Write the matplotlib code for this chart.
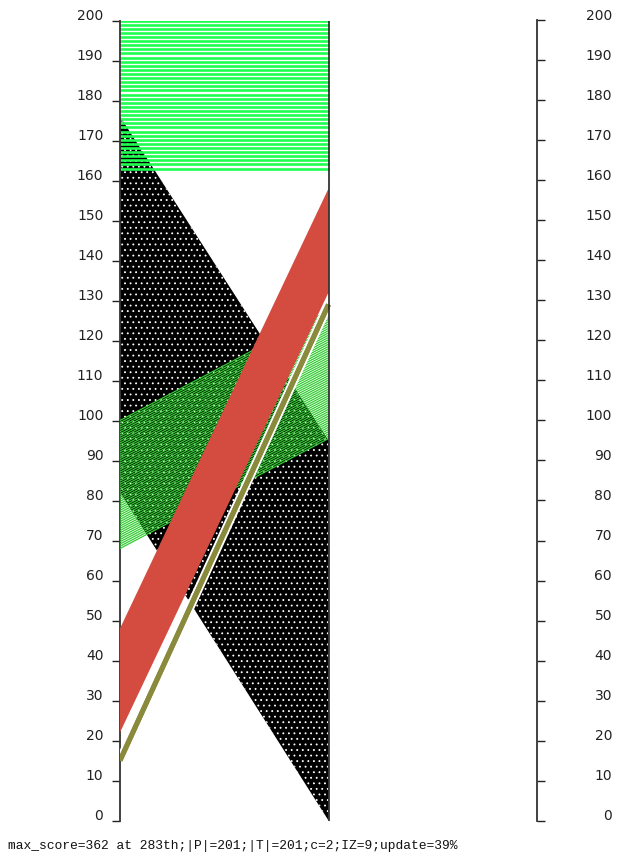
import matplotlib.pyplot as plt
import matplotlib.patheffects as pe
from matplotlib.collections import LineCollection
import numpy as np

plt.rcParams['font.family'] = 'DejaVu Sans'
plt.rcParams['hatch.linewidth'] = 0.6

# band ranges on the first axis (left) and second axis (middle)
band_names = ['dots', 'top', 'diag', 'red']
left_lo = [82, 163, 68, 22]
left_hi = [176, 200, 100, 48]
mid_lo = [0, 163, 95.5, 132]
mid_hi = [95, 200, 127.5, 158]

# single highlighted line
line_left = 15
line_mid = 129

yticks = list(range(0, 201, 10))
footer = "max_score=362 at 283th;|P|=201;|T|=201;c=2;IZ=9;update=39%"

fig = plt.figure(figsize=(6.24, 8.65), dpi=100)
ax = fig.add_axes([120 / 624, 1 - 820.5 / 865, (537 - 120) / 624, 800 / 865])
ax.set_xlim(0, 2)
ax.set_ylim(0, 200)

xs = [0, 1]

# black dotted band
ax.fill_between(xs, [left_lo[0], mid_lo[0]], [left_hi[0], mid_hi[0]],
                facecolor='black', edgecolor='white', hatch='...', lw=0, zorder=1)


def line_band(i, n, color, lw, z):
    segs = []
    for t in np.linspace(0, 1, n):
        yl = left_lo[i] + t * (left_hi[i] - left_lo[i])
        ym = mid_lo[i] + t * (mid_hi[i] - mid_lo[i])
        segs.append([(0, yl), (1, ym)])
    ax.add_collection(LineCollection(segs, colors=color, linewidths=lw, zorder=z))


line_band(1, 37, '#1eff50', 1.9, 2)
line_band(2, 58, '#33cc33', 0.9, 3)

# red band
ax.fill_between(xs, [left_lo[3], mid_lo[3]], [left_hi[3], mid_hi[3]],
                facecolor='#d44c40', lw=0, zorder=4)

# olive line with white outline
ax.plot(xs, [line_left, line_mid], color='#8a8a3c', lw=3.6, solid_capstyle='butt', zorder=5,
        path_effects=[pe.withStroke(linewidth=6.5, foreground='white'), pe.Normal()])

ax.axvline(1, color='#222222', lw=1.2, zorder=6)

for s in ['top', 'bottom', 'right']:
    ax.spines[s].set_visible(False)
ax.spines['left'].set_color('#333333')
ax.spines['left'].set_linewidth(1.3)
ax.set_xticks([])
ax.set_yticks(yticks)
ax.tick_params(axis='y', direction='out', length=6, width=1, pad=6, labelsize=10,
               colors='#222222')

ax2 = ax.twinx()
ax2.set_ylim(0, 200)
for s in ['top', 'bottom', 'left']:
    ax2.spines[s].set_visible(False)
ax2.spines['right'].set_color('#333333')
ax2.spines['right'].set_linewidth(1.3)
ax2.set_yticks(yticks)
ax2.tick_params(axis='y', direction='out', length=6, width=1, pad=48, labelsize=10,
                colors='#222222')

for t in ax.yaxis.get_major_ticks():
    t.label1.set_verticalalignment('baseline')
for t in ax2.yaxis.get_major_ticks():
    t.label2.set_horizontalalignment('right')
    t.label2.set_verticalalignment('baseline')

fig.text(0.013, 1 - 846 / 865, footer, family='Liberation Mono', fontsize=9.4,
         va='center', ha='left', color='#111111')

fig.savefig('out.png', dpi=100)
